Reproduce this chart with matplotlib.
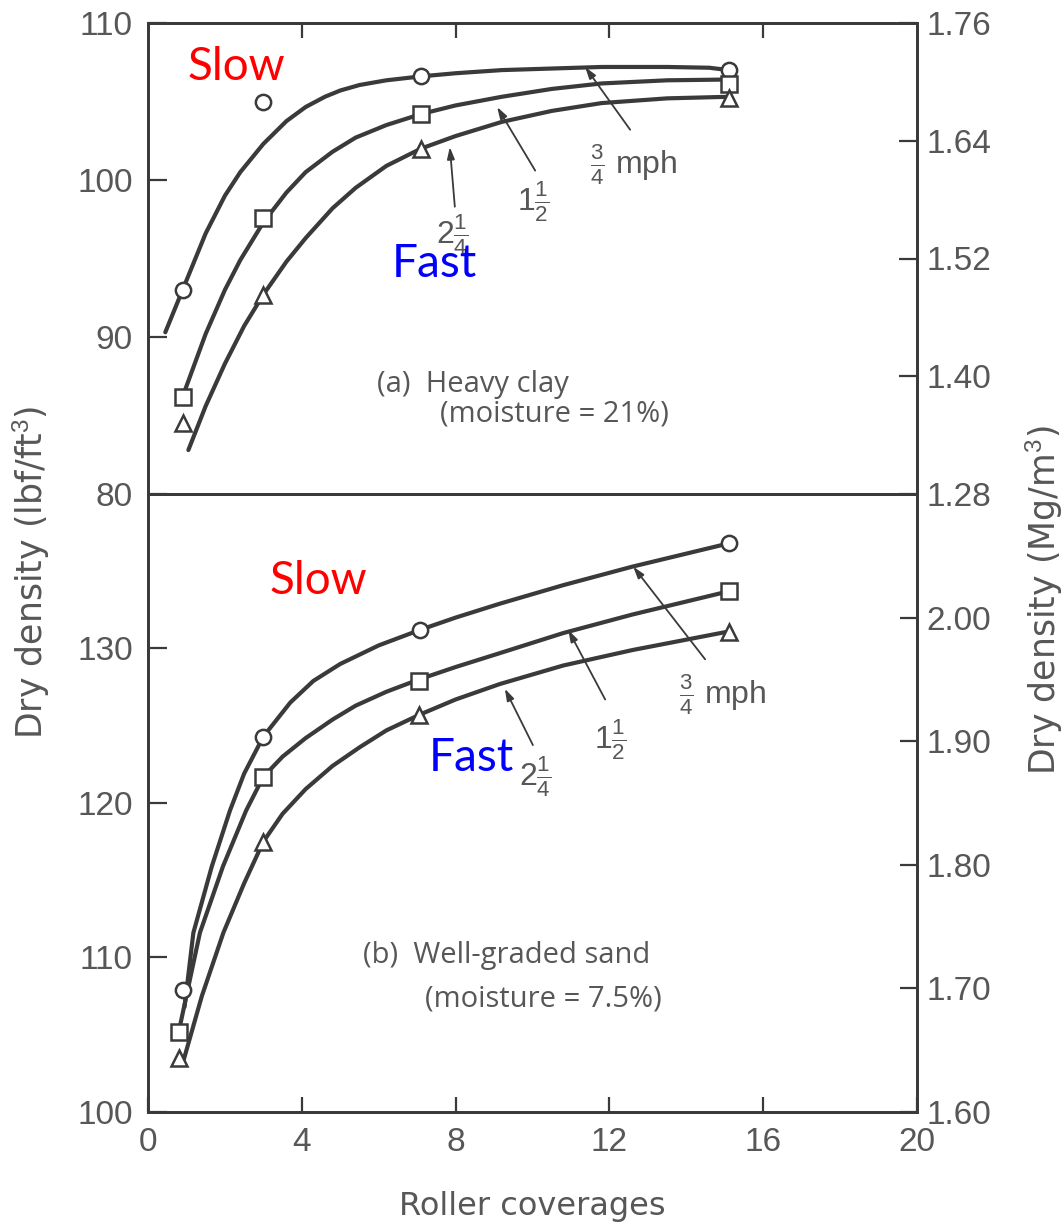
import matplotlib
matplotlib.use("Agg")
import matplotlib.pyplot as plt
from matplotlib.ticker import FixedLocator

# ---------------- data ----------------
# Roller coverages at which densities were measured
coverages = [0.9, 3.0, 7.1, 15.1]

# (a) Heavy clay, moisture 21 % -- dry density, lbf/ft^3
clay_slow = [93.0, 105.0, 106.6, 107.0]      # 3/4 mph
clay_mid = [86.2, 97.6, 104.2, 106.1]        # 1 1/2 mph
clay_fast = [84.5, 92.7, 102.0, 105.2]       # 2 1/4 mph

# fitted trend lines for (a)
clay_slow_cx = [0.45, 0.9, 1.5, 2.0, 2.4, 3.0, 3.6, 4.1, 4.6, 5.0, 5.5, 6.2, 7.1,
                8.0, 9.2, 10.5, 11.8, 13.5, 14.6, 15.1]
clay_slow_cy = [90.3, 93.0, 96.6, 99.0, 100.5, 102.3, 103.75, 104.65, 105.3, 105.7,
                106.05, 106.35, 106.6, 106.8, 107.0, 107.1, 107.2, 107.2, 107.15, 107.0]
clay_mid_cx = [0.9, 1.5, 2.0, 2.4, 3.0, 3.6, 4.1, 4.8, 5.4, 6.2, 7.1, 8.0, 9.2,
               10.5, 11.8, 13.5, 15.1]
clay_mid_cy = [86.2, 90.2, 93.0, 94.9, 97.3, 99.2, 100.5, 101.8, 102.7, 103.5, 104.2,
               104.75, 105.3, 105.8, 106.15, 106.35, 106.4]
clay_fast_cx = [1.05, 1.5, 2.0, 2.5, 3.0, 3.6, 4.1, 4.8, 5.4, 6.2, 7.1, 8.0, 9.2,
                10.5, 11.8, 13.5, 15.1]
clay_fast_cy = [82.8, 85.6, 88.3, 90.7, 92.7, 94.8, 96.3, 98.2, 99.5, 100.9, 102.0,
                102.8, 103.7, 104.4, 104.9, 105.2, 105.3]

# (b) Well-graded sand, moisture 7.5 % -- dry density, lbf/ft^3
sand_x_slow = [0.9, 3.0, 7.07, 15.1]
sand_x_other = [0.8, 3.0, 7.05, 15.1]
sand_slow = [107.9, 124.3, 131.2, 136.8]
sand_mid = [105.2, 121.7, 127.9, 133.7]
sand_fast = [103.5, 117.5, 125.7, 131.1]

# fitted trend lines for (b)
sand_slow_cx = [0.95, 1.18, 1.66, 2.13, 2.5, 3.0, 3.7, 4.3, 5.0, 6.0, 7.07, 8.0,
                9.15, 10.8, 12.6, 15.1]
sand_slow_cy = [106.8, 111.6, 115.9, 119.5, 121.9, 124.3, 126.5, 127.9, 129.0, 130.2,
                131.2, 132.0, 132.9, 134.1, 135.3, 136.8]
sand_mid_cx = [0.8, 1.35, 1.95, 2.55, 3.0, 3.5, 4.1, 4.8, 5.4, 6.2, 7.05, 8.0, 9.15,
               10.8, 12.6, 15.1]
sand_mid_cy = [105.2, 111.6, 115.9, 119.5, 121.7, 123.0, 124.2, 125.4, 126.3, 127.2,
               128.0, 128.8, 129.7, 131.0, 132.2, 133.7]
sand_fast_cx = [0.92, 1.4, 1.96, 2.5, 3.0, 3.5, 4.1, 4.8, 5.5, 6.2, 7.05, 8.0, 9.15,
                10.8, 12.6, 15.1]
sand_fast_cy = [103.3, 107.5, 111.6, 114.8, 117.5, 119.3, 120.9, 122.4, 123.6, 124.7,
                125.7, 126.7, 127.7, 128.9, 129.9, 131.1]

# axis ticks
x_ticks = [0, 4, 8, 12, 16, 20]
clay_left_ticks = [80, 90, 100, 110]
clay_right_ticks = [1.28, 1.40, 1.52, 1.64, 1.76]
sand_left_ticks = [100, 110, 120, 130]
sand_right_ticks = [1.60, 1.70, 1.80, 1.90, 2.00]

speed_labels = [r"$\frac{3}{4}$ mph", r"$1\frac{1}{2}$", r"$2\frac{1}{4}$"]

# ---------------- styling ----------------
INK = "#3a3a3a"
TXT = "#575757"
plt.rcParams["font.family"] = ["Liberation Sans", "DejaVu Sans"]
plt.rcParams["mathtext.fontset"] = "custom"
plt.rcParams["mathtext.rm"] = "Liberation Sans"
plt.rcParams["mathtext.it"] = "Liberation Sans"
plt.rcParams["mathtext.bf"] = "Liberation Sans"
WIDE = ["DejaVu Sans"]
CAPTION = ["Open Sans", "DejaVu Sans"]
NOTE = ["Lato", "DejaVu Sans"]

fig = plt.figure(figsize=(10.64, 12.24), dpi=100)
L, W = 148 / 1064, (917 - 148) / 1064
ax_a = fig.add_axes([L, 1 - 494 / 1224, W, (494 - 23) / 1224])
ax_b = fig.add_axes([L, 1 - 1112 / 1224, W, (1112 - 494) / 1224])


def style_axes(ax):
    for s in ax.spines.values():
        s.set_color(INK)
        s.set_linewidth(2.0)
    ax.tick_params(which="both", direction="in", color=INK, width=1.6,
                   labelcolor=TXT)


def draw_series(ax, cx, cy, x, y, marker, ms):
    ax.plot(cx, cy, color=INK, lw=3.0, solid_capstyle="round",
            solid_joinstyle="round", zorder=3)
    ax.plot(x, y, linestyle="none", marker=marker, ms=ms, mfc="white",
            mec=INK, mew=1.8, zorder=4)


arrow_kw = dict(arrowstyle="-|>,head_length=0.7,head_width=0.22",
                color=INK, lw=1.3, shrinkA=0, shrinkB=0)

# ----- panel (a) -----
ax = ax_a
ax.set_xlim(0, 20)
ax.set_ylim(80, 110)
style_axes(ax)
draw_series(ax, clay_slow_cx, clay_slow_cy, coverages, clay_slow, "o", 11)
draw_series(ax, clay_mid_cx, clay_mid_cy, coverages, clay_mid, "s", 11)
draw_series(ax, clay_fast_cx, clay_fast_cy, coverages, clay_fast, "^", 11.5)
ax.yaxis.set_major_locator(FixedLocator(clay_left_ticks))
ax.set_yticklabels([str(v) for v in clay_left_ticks], fontsize=24)
ax.tick_params(axis="y", length=14, pad=11)
ax.xaxis.set_major_locator(FixedLocator(x_ticks[1:-1]))
ax.tick_params(axis="x", top=True, bottom=False, labeltop=False,
               labelbottom=False, length=11)
axr = ax.twinx()
axr.set_ylim(1.28, 1.76)
style_axes(axr)
axr.yaxis.set_major_locator(FixedLocator(clay_right_ticks))
axr.set_yticklabels([f"{v:.2f}" for v in clay_right_ticks], fontsize=24)
axr.tick_params(axis="y", length=13, pad=7)

ax.annotate("", xy=(11.37, 107.2), xytext=(12.54, 103.2), arrowprops=arrow_kw)
ax.annotate("", xy=(9.08, 104.65), xytext=(10.07, 100.6), arrowprops=arrow_kw)
ax.annotate("", xy=(7.85, 102.1), xytext=(7.98, 98.3), arrowprops=arrow_kw)
ax.text(11.5, 101.0, speed_labels[0], fontsize=23, color=TXT, va="center")
ax.text(9.6, 98.6, speed_labels[1], fontsize=23, color=TXT, va="center")
ax.text(7.5, 96.5, speed_labels[2], fontsize=23, color=TXT, va="center")

ax.text(5.96, 87.0, "(a)  Heavy clay", fontsize=21, color=TXT, va="center",
        family=CAPTION)
ax.text(7.59, 85.1, "(moisture = 21%)", fontsize=21, color=TXT, va="center",
        family=CAPTION)

ax.text(2.29, 107.2, "Slow", fontsize=33, color="#ff0000", ha="center",
        va="center", family=NOTE, zorder=6)
ax.text(7.46, 94.65, "Fast", fontsize=33, color="#0000ff", ha="center",
        va="center", family=NOTE, zorder=6)

# ----- panel (b) -----
ax = ax_b
ax.set_xlim(0, 20)
ax.set_ylim(100, 140)
style_axes(ax)
draw_series(ax, sand_slow_cx, sand_slow_cy, sand_x_slow, sand_slow, "o", 11)
draw_series(ax, sand_mid_cx, sand_mid_cy, sand_x_other, sand_mid, "s", 11)
draw_series(ax, sand_fast_cx, sand_fast_cy, sand_x_other, sand_fast, "^", 11.5)
ax.yaxis.set_major_locator(FixedLocator(sand_left_ticks))
ax.set_yticklabels([str(v) for v in sand_left_ticks], fontsize=24)
ax.tick_params(axis="y", length=14, pad=11)
ax.xaxis.set_major_locator(FixedLocator(x_ticks))
ax.set_xticklabels([str(v) for v in x_ticks], fontsize=24)
ax.tick_params(axis="x", length=11, pad=11)
axr = ax.twinx()
axr.set_ylim(1.60, 2.10)
style_axes(axr)
axr.yaxis.set_major_locator(FixedLocator(sand_right_ticks))
axr.set_yticklabels([f"{v:.2f}" for v in sand_right_ticks], fontsize=24)
axr.tick_params(axis="y", length=12, pad=7)

ax.annotate("", xy=(12.62, 135.3), xytext=(14.49, 129.3), arrowprops=arrow_kw)
ax.annotate("", xy=(10.93, 131.2), xytext=(11.89, 126.7), arrowprops=arrow_kw)
ax.annotate("", xy=(9.28, 127.4), xytext=(10.01, 123.75), arrowprops=arrow_kw)
ax.text(13.8, 127.0, speed_labels[0], fontsize=23, color=TXT, va="center")
ax.text(11.6, 124.1, speed_labels[1], fontsize=23, color=TXT, va="center")
ax.text(9.65, 121.7, speed_labels[2], fontsize=23, color=TXT, va="center")

ax.text(5.59, 110.1, "(b)  Well-graded sand", fontsize=21, color=TXT,
        va="center", family=CAPTION)
ax.text(7.2, 107.3, "(moisture = 7.5%)", fontsize=21, color=TXT, va="center",
        family=CAPTION)

ax.text(4.42, 134.4, "Slow", fontsize=33, color="#ff0000", ha="center",
        va="center", family=NOTE, zorder=6)
ax.text(8.4, 122.9, "Fast", fontsize=33, color="#0000ff", ha="center",
        va="center", family=NOTE, zorder=6)

# ----- shared axis titles -----
fig.text(31 / 1064, 1 - 572 / 1224, r"Dry density (lbf/ft$^3$)", rotation=90,
         ha="center", va="center", fontsize=25, color=TXT, family=WIDE)
fig.text(1044 / 1064, 1 - 600 / 1224, r"Dry density (Mg/m$^3$)", rotation=90,
         ha="center", va="center", fontsize=25, color=TXT, family=WIDE)
fig.text(532 / 1064, 1 - 1207 / 1224, "Roller coverages", ha="center",
         va="center", fontsize=23, color=TXT, family=WIDE)

fig.savefig("out.png", dpi=100, facecolor="white")
